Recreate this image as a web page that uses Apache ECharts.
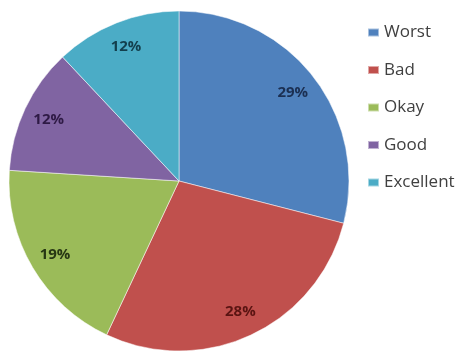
<!DOCTYPE html>
<html>
<head>
<meta charset="utf-8">
<script src="https://cdn.jsdelivr.net/npm/echarts@6/dist/echarts.min.js"></script>
<style>
  html, body { margin: 0; padding: 0; background: #fff; }
  #chart { width: 461px; height: 355px; }
</style>
</head>
<body>
<div id="chart"></div>
<script>
// Rating categories and their shares (percent)
const categories = ['Worst', 'Bad', 'Okay', 'Good', 'Excellent'];
const shares = [29, 28, 19, 12, 12];
const sliceColors = ['#4F81BD', '#C0504D', '#9BBB59', '#8064A2', '#4BACC6'];
const labelColors = ['#1B2F52', '#5A1412', '#263613', '#2E1A45', '#133F4D'];

const chart = echarts.init(document.getElementById('chart'));

const sliceData = categories.map((name, i) => ({
  name,
  value: shares[i],
  itemStyle: { color: sliceColors[i] }
}));

// Ring used only to place the percentage labels near the rim
const labelData = categories.map((name, i) => ({
  name,
  value: shares[i],
  label: { color: labelColors[i] }
}));

const CENTER = [179, 181];
const R = 170;

chart.setOption({
  animation: false,
  legend: {
    orient: 'vertical',
    left: 362,
    top: 19,
    itemWidth: 11,
    itemHeight: 8,
    itemGap: 20.5,
    icon: 'rect',
    data: categories,
    textStyle: { color: '#404040', fontSize: 17, fontFamily: 'Open Sans, sans-serif' }
  },
  series: [
    {
      type: 'pie',
      center: CENTER,
      radius: [0, R],
      startAngle: 90,
      clockwise: true,
      silent: true,
      label: { show: false },
      labelLine: { show: false },
      itemStyle: { borderColor: 'rgba(255,255,255,0.5)', borderWidth: 1 },
      data: sliceData
    },
    {
      type: 'pie',
      center: CENTER,
      radius: [112, R],
      startAngle: 90,
      clockwise: true,
      silent: true,
      itemStyle: { color: 'transparent', borderWidth: 0 },
      label: {
        show: true,
        position: 'inside',
        formatter: '{c}%',
        fontSize: 15,
        fontWeight: 'bold',
        fontFamily: 'Open Sans, sans-serif'
      },
      labelLine: { show: false },
      data: labelData
    }
  ]
});
</script>
</body>
</html>
